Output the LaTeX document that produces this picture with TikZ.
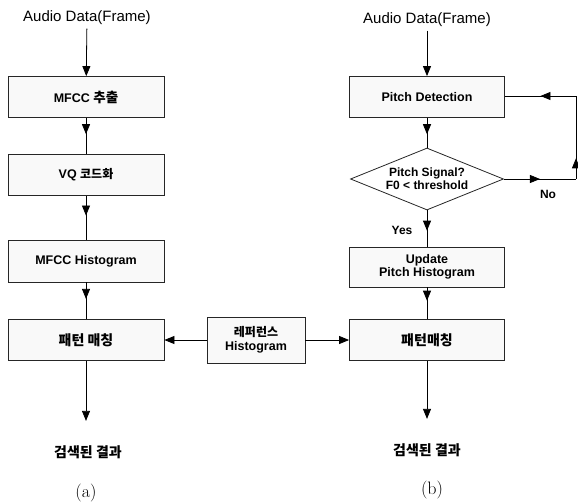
\documentclass[tikz,border=0pt]{standalone}
\usepackage{fontspec}
\setmainfont{Liberation Sans}
\newfontfamily\kr{Noto Sans CJK KR}
\newfontfamily\capfont{Latin Modern Roman}
\usetikzlibrary{arrows.meta,shapes.geometric,decorations.markings}
\newcommand{\fs}[1]{\fontsize{#1}{#1}\selectfont}
\begin{document}
\begin{tikzpicture}[x=1pt,y=-1pt,
  box/.style={draw=black!85, fill=gray!5, line width=0.8pt, minimum width=156pt, minimum height=41pt, inner sep=0pt, font=\bfseries\fs{12.5}, align=center},
  lbl/.style={font=\fs{15}},
  yn/.style={font=\bfseries\fs{12}},
  conn/.style={draw=black, line width=0.8pt},
  tip/.style={-{Triangle[length=10pt,width=8pt]}},
  midtip/.style={postaction={decorate}, decoration={markings, mark=at position #1 with {\arrow{Triangle[length=10pt,width=8pt]}}}},
]
\useasboundingbox (0,0) rectangle (578,503);
% left column
\node[lbl] (inA) at (87,18) {Audio Data(Frame)};
\node[box] (a1) at (86,97) {MFCC {\kr\fs{13.5}추출}};
\node[box] (a2) at (86,175) {VQ {\kr\fs{12}코드화}};
\node[box, minimum height=42pt] (a3) at (86,261) {MFCC Histogram};
\node[box] (a4) at (86,340) {\kr\fs{14}패턴 매칭};
\node[font=\bfseries\kr\fs{14}] (outA) at (88,452) {검색된 결과};
\node[font=\capfont\fs{18}] (capA) at (86,493) {(a)};
% reference
\node[box, minimum width=98pt, minimum height=46pt] (ref) at (256,340) {{\kr\fs{12}레퍼런스}\\[1pt]Histogram};
% right column
\node[lbl] (inB) at (427,20) {Audio Data(Frame)};
\node[box, minimum width=155pt] (b1) at (427,97) {Pitch Detection};
\node[draw=black!85, fill=white, line width=0.8pt, diamond, minimum width=153pt, minimum height=62pt, inner sep=0pt, label={[font=\bfseries\fs{12}, align=center]center:Pitch Signal?\\[1pt]F0 < threshold}] (b2) at (427,179) {};
\node[box, minimum width=155pt, minimum height=40pt] (b3) at (427,267) {Update\\[1pt]Pitch Histogram};
\node[box, minimum width=155pt] (b4) at (427,340) {\kr\fs{14}패턴매칭};
\node[font=\bfseries\kr\fs{14}] (outB) at (427,450) {검색된 결과};
\node[font=\capfont\fs{18}] (capB) at (432,490) {(b)};
\node[yn] (yes) at (402,230) {Yes};
\node[yn] (no) at (548,194) {No};
\coordinate (c1) at (576,179);
\coordinate (c2) at (576,96);
% connectors left
\draw[conn, tip] (inA) -- (a1);
\draw[conn, midtip=0.45] (a1) -- (a2);
\draw[conn, midtip=0.45] (a2) -- (a3);
\draw[conn, midtip=0.45] (a3) -- (a4);
\draw[conn, tip, shorten >=21pt] (a4) -- (outA.north -| a4);
\draw[conn, tip] (ref) -- (a4);
\draw[conn, tip] (ref) -- (b4);
% connectors right
\draw[conn, tip] (inB) -- (b1);
\draw[conn, midtip=0.55] (b1) -- (b2);
\draw[conn, midtip=0.56] (b2) -- (b3);
\draw[conn, midtip=0.42] (b3) -- (b4);
\draw[conn, tip, shorten >=21pt] (b4) -- (outB);
\draw[conn, midtip=0.5] (b2.east) -- (c1);
\draw[conn, midtip=0.25] (c1) -- (c2);
\draw[conn, midtip=0.5] (c2) -- (c2 -| b1.east);
\end{tikzpicture}
\end{document}
